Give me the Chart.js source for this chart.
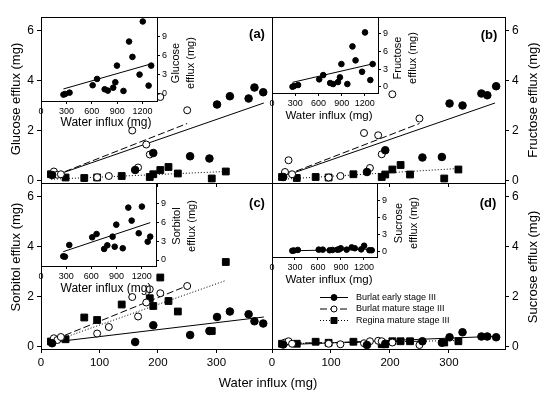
<!DOCTYPE html>
<html>
<head>
<meta charset="utf-8">
<script src="https://cdn.jsdelivr.net/npm/chart.js@4/dist/chart.umd.min.js"></script>
<style>
  body { margin: 0; background: #fff; }
  #wrap { position: relative; width: 550px; height: 398px; overflow: hidden; font-family: "Liberation Sans", Arial, sans-serif; }
  canvas { position: absolute; left: 0; top: 0; }
  .t { position: absolute; white-space: nowrap; color: #000; line-height: 1; transform: translate(-50%, -50%); }
  .rot { transform: translate(-50%, -50%) rotate(-90deg); text-align: center; }
  .lab { font-weight: bold; font-size: 13px; }
</style>
</head>
<body>
<div id="wrap">
  <canvas id="ca" width="550" height="398"></canvas>
  <canvas id="cb" width="550" height="398"></canvas>
  <canvas id="cc" width="550" height="398"></canvas>
  <canvas id="cd" width="550" height="398"></canvas>
  <canvas id="ia" width="550" height="398"></canvas>
  <canvas id="ib" width="550" height="398"></canvas>
  <canvas id="ic" width="550" height="398"></canvas>
  <canvas id="id" width="550" height="398"></canvas>

  <div class="t rot" style="left:15px;top:99px;font-size:13px">Glucose efflux (mg)</div>
  <div class="t rot" style="left:15px;top:257px;font-size:13px">Sorbitol efflux (mg)</div>
  <div class="t rot" style="left:532px;top:100px;font-size:13px">Fructose efflux (mg)</div>
  <div class="t rot" style="left:532px;top:267px;font-size:13px">Sucrose efflux (mg)</div>
  <div class="t" style="left:268px;top:382px;font-size:13px">Water influx (mg)</div>

  <div class="t lab" style="left:257px;top:33px">(a)</div>
  <div class="t lab" style="left:489px;top:34px">(b)</div>
  <div class="t lab" style="left:257px;top:202px">(c)</div>
  <div class="t lab" style="left:488px;top:202px">(d)</div>

  <div class="t rot" style="left:183px;top:63px;font-size:11px;line-height:15px">Glucose<br>efflux (mg)</div>
  <div class="t rot" style="left:405px;top:58px;font-size:11px;line-height:15px">Fructose<br>efflux (mg)</div>
  <div class="t rot" style="left:184px;top:226px;font-size:11px;line-height:15px">Sorbitol<br>efflux (mg)</div>
  <div class="t rot" style="left:406px;top:223px;font-size:11px;line-height:15px">Sucrose<br>efflux (mg)</div>

  <div class="t" style="left:106px;top:122px;font-size:12px">Water influx (mg)</div>
  <div class="t" style="left:329px;top:116px;font-size:11.5px">Water influx (mg)</div>
  <div class="t" style="left:106px;top:288px;font-size:12px">Water influx (mg)</div>
  <div class="t" style="left:329px;top:280px;font-size:11.5px">Water influx (mg)</div>
</div>

<script>
const family = '"Liberation Sans", Arial, sans-serif';

const seriesNames = ['Burlat early stage III', 'Burlat mature stage III', 'Regina mature stage III'];
const mainXTicks = [0, 100, 200, 300];
const mainYTicks = [0, 2, 4, 6];
const insetXTicks = [0, 300, 600, 900, 1200];
const insetYTicks = [0, 3, 6, 9];

// water influx (mg) of each fruit group, main panels
const earlyInflux = [19, 161, 192, 255, 288, 301, 323, 355, 365, 380];
const matureInflux = [22, 28, 34, 96, 116, 156, 166, 180, 186, 204, 250];
const reginaInflux = [17, 42, 74, 96, 138, 186, 192, 204, 218, 234, 292, 316];

// (a) glucose
const glucoseEarly = [0.21, 0.41, 1.09, 0.96, 0.87, 3.03, 3.36, 3.27, 3.71, 3.52];
const glucoseMature = [0.35, 0.22, 0.24, 0.12, 0.17, 1.99, 0.51, 1.43, 1.03, 3.33, 2.80];
const glucoseRegina = [0.24, 0.11, 0.09, 0.11, 0.17, 0.13, 0.24, 0.41, 0.53, 0.27, 0.07, 0.35];
const glucoseFits = [[[30, 0.24], [381, 3.09]], [[25, 0.2], [250, 2.27]], [[17, 0.04], [316, 0.35]]];

// (b) fructose
const fructoseEarly = [0.13, 0.33, 1.20, 0.91, 0.93, 3.07, 2.99, 3.47, 3.40, 3.76];
const fructoseMature = [0.33, 0.80, 0.24, 0.11, 0.17, 1.89, 0.49, 1.80, 1.04, 3.44, 2.47];
const fructoseRegina = [0.13, 0.09, 0.13, 0.11, 0.24, 0.13, 0.23, 0.43, 0.61, 0.23, 0.07, 0.43];
const fructoseFits = [[[30, 0.24], [378, 3.09]], [[25, 0.22], [250, 2.27]], [[17, 0.04], [316, 0.47]]];

// (c) sorbitol
const sorbitolEarly = [0.12, 0.17, 0.84, 0.45, 0.61, 1.17, 1.39, 1.28, 1.00, 0.91];
const sorbitolMature = [0.32, 0.25, 0.37, 0.51, 0.77, 1.97, 1.19, 1.75, 2.28, 2.12, 2.41];
const sorbitolRegina = [0.19, 0.28, 1.15, 1.05, 1.67, 1.92, 1.61, 2.75, 1.81, 1.39, 0.61, 3.37];
const sorbitolFits = [[[19, 0.16], [381, 1.17]], [[25, 0.29], [250, 2.42]], [[17, 0.16], [316, 2.63]]];

// (d) sucrose
const sucroseEarly = [0.07, 0.05, 0.10, 0.20, 0.14, 0.36, 0.56, 0.39, 0.39, 0.36];
const sucroseMature = [0.15, 0.20, 0.10, 0.10, 0.08, 0.12, 0.20, 0.22, 0.20, 0.15, 0.05];
const sucroseRegina = [0.10, 0.10, 0.18, 0.14, 0.18, 0.08, 0.08, 0.20, 0.20, 0.20, 0.15, 0.20];
const sucroseFits = [[[19, 0.06], [380, 0.40]], [[22, 0.12], [250, 0.20]], [[17, 0.10], [316, 0.23]]];

// insets: Burlat early stage III, wider influx range
const insetInflux = [265, 285, 337, 610, 662, 752, 790, 853, 878, 897, 974, 1040, 1080, 1164, 1202, 1271, 1301];
const insetGlucose = [-0.1, 0.0, 0.2, 1.36, 2.34, 0.73, 0.52, 0.98, 1.83, 4.42, 0.47, 8.17, 5.78, 3.02, 11.3, 1.3, 4.42];
const insetFructose = [0.0, 0.12, 0.29, 1.26, 1.99, 0.63, 0.46, 0.8, 1.6, 3.87, 0.46, 6.88, 4.5, 2.56, 9.27, 1.14, 3.87];
const insetSorbitol = [0.58, 0.53, 2.38, 3.6, 4.12, 1.75, 2.33, 3.7, 2.11, 5.6, 1.86, 8.3, 6.24, 4.24, 8.46, 2.9, 3.7];
const insetSucrose = [0.1, 0.15, 0.25, 0.3, 0.3, 0.2, 0.25, 0.3, 0.35, 0.55, 0.3, 0.7, 0.55, 0.35, 1.0, 0.2, 0.2];
const insetFitX = [265, 1301];
const insetGlucoseFit = [0.78, 4.69];
const insetFructoseFit = [0.75, 3.9];
const insetSorbitolFit = [1.32, 5.92];
const insetSucroseFit = [0.1, 0.4];

const styles = [
  { pointStyle: 'circle', pointRadius: 3.8, pointBackgroundColor: '#000', dash: [] },
  { pointStyle: 'circle', pointRadius: 3.5, pointBackgroundColor: '#fff', dash: [7, 3] },
  { pointStyle: 'rect', pointRadius: 4.8, pointBackgroundColor: '#000', dash: [1, 2] }
];

// white box + frame round the plot area
const frame = {
  id: 'frame',
  beforeDraw(chart, args, opts) {
    if (!opts.fill) return;
    const a = chart.chartArea;
    chart.ctx.save();
    chart.ctx.fillStyle = '#fff';
    chart.ctx.fillRect(a.left, a.top, a.right - a.left, a.bottom - a.top);
    chart.ctx.restore();
  },
  afterDraw(chart) {
    const a = chart.chartArea, ctx = chart.ctx;
    ctx.save();
    ctx.strokeStyle = '#000';
    ctx.lineWidth = 1;
    const l = Math.round(a.left) + 0.5, t = Math.round(a.top) + 0.5;
    ctx.strokeRect(l, t, Math.round(a.right) - Math.round(a.left), Math.round(a.bottom) - Math.round(a.top));
    ctx.restore();
  }
};

// legend inside panel (d)
const legendBox = {
  id: 'legendBox',
  afterDraw(chart) {
    const ctx = chart.ctx;
    ctx.save();
    ctx.font = '9px ' + family;
    ctx.textBaseline = 'middle';
    ctx.fillStyle = '#000';
    seriesNames.forEach((name, i) => {
      const y = [297.5, 309, 320.5][i];
      const s = styles[i];
      ctx.strokeStyle = '#000';
      ctx.lineWidth = 1;
      ctx.setLineDash(s.dash);
      ctx.beginPath();
      ctx.moveTo(320, y);
      ctx.lineTo(348, y);
      ctx.stroke();
      ctx.setLineDash([]);
      ctx.fillStyle = s.pointBackgroundColor;
      ctx.beginPath();
      if (s.pointStyle === 'rect') ctx.rect(331, y - 3, 6, 6);
      else ctx.arc(334, y, 3, 0, Math.PI * 2);
      ctx.fill();
      ctx.stroke();
      ctx.fillStyle = '#000';
      ctx.fillText(name, 356, y);
    });
    ctx.restore();
  }
};

function pts(xs, ys, i, r) {
  const s = styles[i];
  return {
    data: xs.map((x, k) => ({ x: x, y: ys[k] })),
    showLine: false,
    pointStyle: s.pointStyle,
    pointRadius: r || s.pointRadius,
    pointBackgroundColor: s.pointBackgroundColor,
    pointBorderColor: '#000',
    pointBorderWidth: 1
  };
}

function fit(xs, ys, i) {
  return {
    data: xs.map((x, k) => ({ x: x, y: ys[k] })),
    showLine: true,
    pointRadius: 0,
    borderColor: '#000',
    borderWidth: 1,
    borderDash: styles[i].dash
  };
}

const plain = v => String(v);

function makeMain(id, area, yRight, showX, ys, fits, extra) {
  const xh = showX ? 20 : 8;
  const yw = yRight ? 45 : 41;
  const datasets = [
    pts(earlyInflux, ys[0], 0), pts(matureInflux, ys[1], 1), pts(reginaInflux, ys[2], 2),
    fit(fits[0].map(p => p[0]), fits[0].map(p => p[1]), 0),
    fit(fits[1].map(p => p[0]), fits[1].map(p => p[1]), 1),
    fit(fits[2].map(p => p[0]), fits[2].map(p => p[1]), 2)
  ];
  new Chart(document.getElementById(id), {
    type: 'scatter',
    data: { datasets },
    options: {
      responsive: false, animation: false, devicePixelRatio: 1,
      layout: { padding: {
        left: yRight ? area[0] : area[0] - yw,
        right: yRight ? 550 - area[1] - yw : 550 - area[1],
        top: area[2],
        bottom: 398 - area[3] - xh
      } },
      plugins: { legend: { display: false }, tooltip: { enabled: false }, frame: {} },
      scales: {
        x: {
          type: 'linear', min: 0, max: 395,
          afterBuildTicks: s => { s.ticks = mainXTicks.map(v => ({ value: v })); },
          afterFit: s => { s.height = xh; },
          ticks: { display: showX, color: '#000', padding: 3, callback: plain, font: { size: 11.5, family } },
          grid: { drawOnChartArea: false, tickLength: 4, color: '#000' },
          border: { color: '#000' }
        },
        y: {
          type: 'linear', position: yRight ? 'right' : 'left', min: -0.11, max: 6.53,
          afterBuildTicks: s => { s.ticks = mainYTicks.map(v => ({ value: v })); },
          afterFit: s => { s.width = yw; },
          ticks: { color: '#000', padding: 3, callback: plain, font: { size: 12, family } },
          grid: { drawOnChartArea: false, tickLength: 4, color: '#000' },
          border: { color: '#000' }
        }
      }
    },
    plugins: [frame].concat(extra || [])
  });
}

function makeInset(id, area, yRange, ys, fitYs, fs) {
  const xh = 24, yw = 20;
  new Chart(document.getElementById(id), {
    type: 'scatter',
    data: { datasets: [pts(insetInflux, ys, 0, 2.8), fit(insetFitX, fitYs, 0)] },
    options: {
      responsive: false, animation: false, devicePixelRatio: 1,
      layout: { padding: { left: area[0], right: 550 - area[1] - yw, top: area[2], bottom: 398 - area[3] - xh } },
      plugins: { legend: { display: false }, tooltip: { enabled: false }, frame: { fill: true } },
      scales: {
        x: {
          type: 'linear', min: 0, max: 1370,
          afterBuildTicks: s => { s.ticks = insetXTicks.map(v => ({ value: v })); },
          afterFit: s => { s.height = xh; },
          ticks: { color: '#000', padding: 2, maxRotation: 0, callback: plain, font: { size: fs, family } },
          grid: { drawOnChartArea: false, tickLength: 3, color: '#000' },
          border: { color: '#000' }
        },
        y: {
          type: 'linear', position: 'right', min: yRange[0], max: yRange[1],
          afterBuildTicks: s => { s.ticks = insetYTicks.map(v => ({ value: v })); },
          afterFit: s => { s.width = yw; },
          ticks: { color: '#000', padding: 2, callback: plain, font: { size: fs, family } },
          grid: { drawOnChartArea: false, tickLength: 3, color: '#000' },
          border: { color: '#000' }
        }
      }
    },
    plugins: [frame]
  });
}

makeMain('ca', [41, 272, 17, 183], false, false, [glucoseEarly, glucoseMature, glucoseRegina], glucoseFits);
makeMain('cb', [272, 505, 17, 183], true, false, [fructoseEarly, fructoseMature, fructoseRegina], fructoseFits);
makeMain('cc', [41, 272, 183, 349], false, true, [sorbitolEarly, sorbitolMature, sorbitolRegina], sorbitolFits);
makeMain('cd', [272, 505, 183, 349], true, true, [sucroseEarly, sucroseMature, sucroseRegina], sucroseFits, [legendBox]);

makeInset('ia', [41, 157, 17, 101], [-1.1, 12], insetGlucose, insetGlucoseFit, 9);
makeInset('ib', [272, 378, 17, 93], [-1.07, 11.9], insetFructose, insetFructoseFit, 9);
makeInset('ic', [41, 156, 183, 266], [-0.95, 12.2], insetSorbitol, insetSorbitolFit, 9);
makeInset('id', [272, 377, 183, 257], [-1.0, 12.1], insetSucrose, insetSucroseFit, 9);
</script>
</body>
</html>
